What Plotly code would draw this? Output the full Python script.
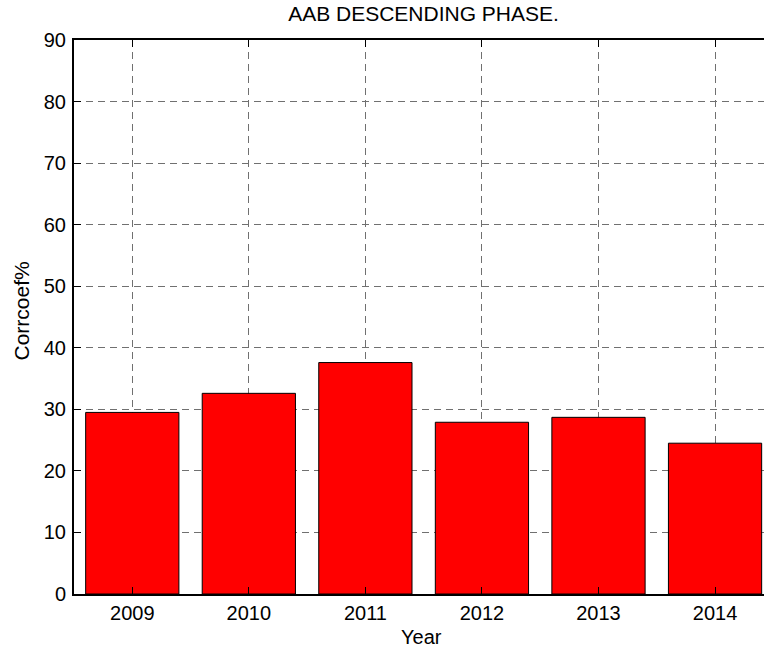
import plotly.graph_objects as go

# Yearly correlation coefficients (%)
years = [2009, 2010, 2011, 2012, 2013, 2014]
corrcoef = [29.5, 32.6, 37.6, 27.9, 28.7, 24.5]
y_ticks = [0, 10, 20, 30, 40, 50, 60, 70, 80, 90]

W, H = 764, 653
ML, MT, MB, MR = 74, 40, 59, 0
pw = W - ML - MR
ph = H - MT - MB

font_family = "Liberation Sans, Arial, sans-serif"
TICK_SIZE = 20

fig = go.Figure()
fig.add_trace(go.Bar(
    x=years,
    y=corrcoef,
    width=0.8,
    marker=dict(color="#ff0000", line=dict(color="black", width=1)),
))

fig.update_layout(
    width=W,
    height=H,
    margin=dict(l=ML, r=MR, t=MT, b=MB),
    paper_bgcolor="white",
    plot_bgcolor="white",
    showlegend=False,
    font=dict(family=font_family, size=TICK_SIZE, color="black"),
    title=dict(
        text="AAB DESCENDING PHASE.",
        x=423.5 / W,
        xanchor="center",
        y=1 - 14 / H,
        yanchor="middle",
        font=dict(family=font_family, size=21, color="black"),
    ),
    xaxis=dict(
        range=[2008.5, 2014.42],
        tickmode="array",
        tickvals=years,
        ticktext=[str(y) for y in years],
        showgrid=True,
        gridcolor="#707070",
        griddash="7px,5px",
        gridwidth=1,
        zeroline=False,
        showline=True,
        linecolor="black",
        linewidth=2,
        mirror="ticks",
        ticks="inside",
        ticklen=7,
        tickcolor="black",
        tickfont=dict(size=TICK_SIZE),
    ),
    yaxis=dict(
        range=[0, 90],
        tickmode="array",
        tickvals=y_ticks,
        showgrid=True,
        gridcolor="#707070",
        griddash="7px,5px",
        gridwidth=1,
        zeroline=False,
        showline=True,
        linecolor="black",
        linewidth=2,
        ticks="inside",
        ticklen=7,
        tickcolor="black",
        tickfont=dict(size=TICK_SIZE),
        ticklabelstandoff=2,
    ),
    annotations=[
        dict(
            text="Corrcoef%",
            xref="paper", yref="paper",
            x=(20.5 - ML) / pw, y=(H - MB - 311) / ph,
            xanchor="center", yanchor="middle",
            textangle=-90,
            showarrow=False,
            font=dict(family=font_family, size=21, color="black"),
        ),
        dict(
            text="Year",
            xref="paper", yref="paper",
            x=(421.5 - ML) / pw, y=(H - MB - 637) / ph,
            xanchor="center", yanchor="middle",
            showarrow=False,
            font=dict(family=font_family, size=TICK_SIZE, color="black"),
        ),
    ],
)

fig.write_html("out.html")
